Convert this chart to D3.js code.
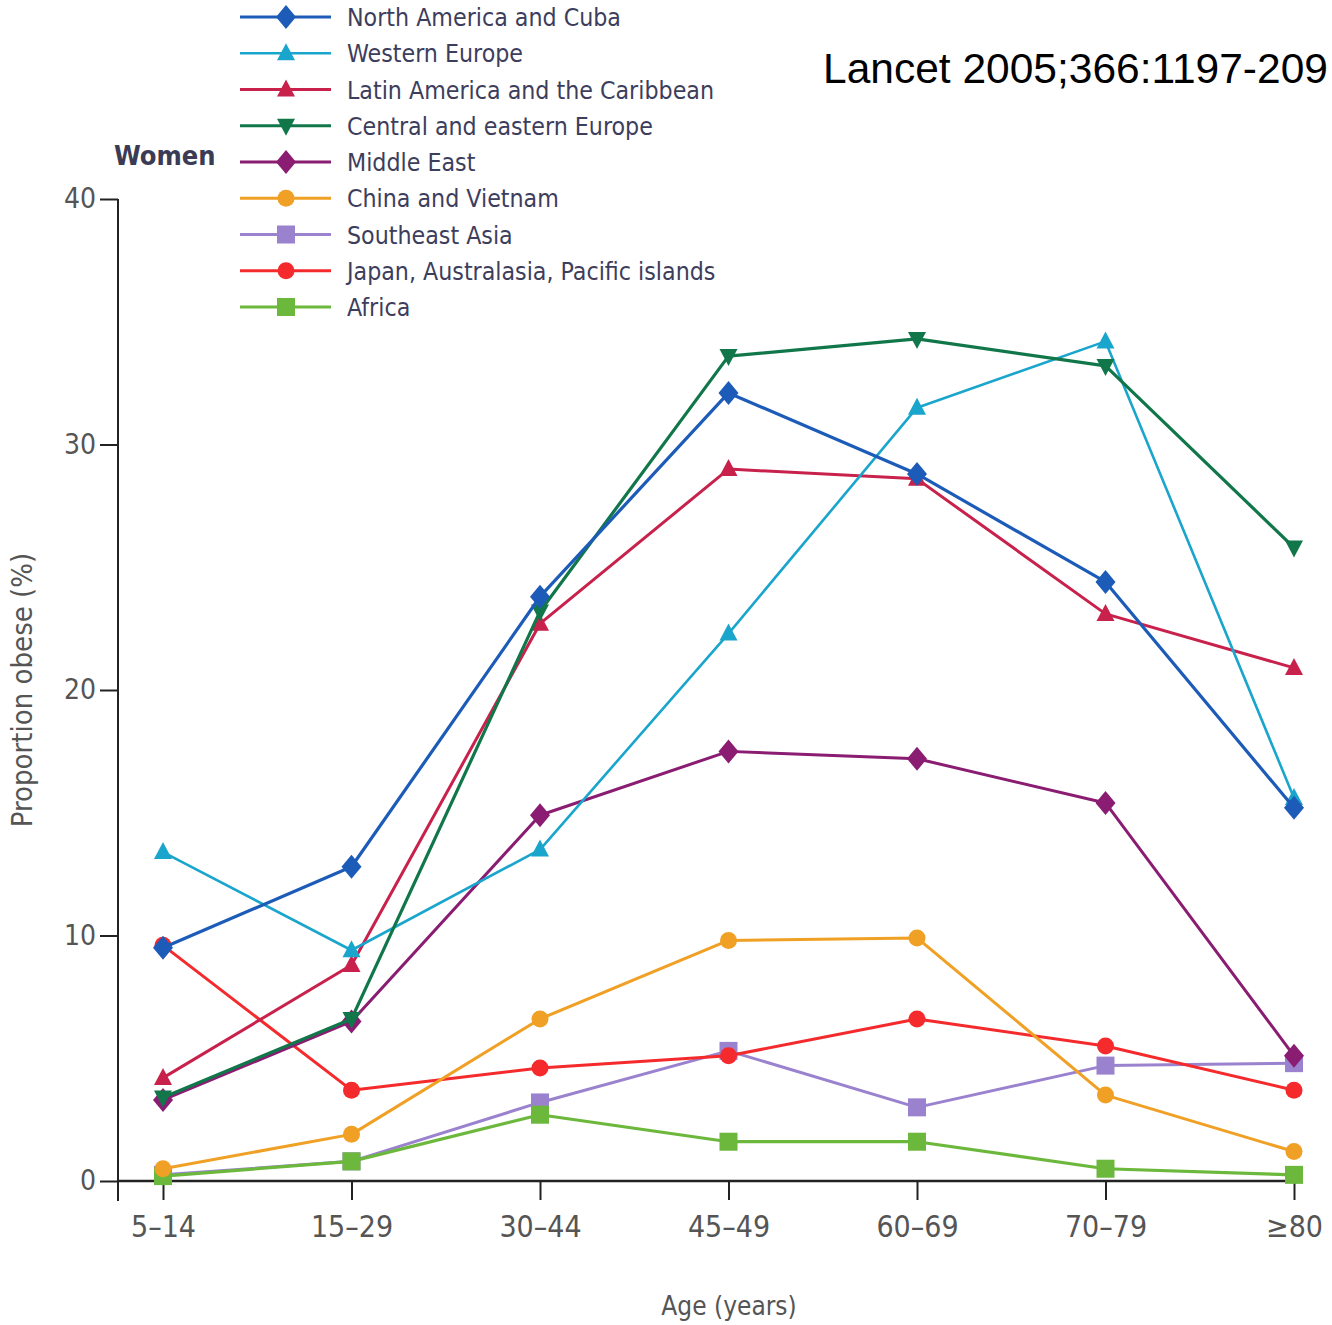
<!DOCTYPE html>
<html><head><meta charset="utf-8">
<script src="https://cdn.jsdelivr.net/npm/d3@7"></script>
<style>body{margin:0;background:#fff}svg{display:block}</style>
</head><body>
<svg id="c" width="1332" height="1325"></svg>
<script>
const categories = ["5–14","15–29","30–44","45–49","60–69","70–79","≥80"];
const yTicks = [0,10,20,30,40];
const northAmerica = [9.5,12.8,23.8,32.1,28.8,24.4,15.2];
const westernEurope = [13.4,9.4,13.5,22.3,31.5,34.2,15.6];
const latinAmerica = [4.2,8.8,22.7,29.0,28.6,23.1,20.9];
const centralEurope = [3.4,6.6,23.2,33.6,34.3,33.2,25.8];
const middleEast = [3.3,6.5,14.9,17.5,17.2,15.4,5.1];
const chinaVietnam = [0.5,1.9,6.6,9.8,9.9,3.5,1.2];
const southeastAsia = [0.25,0.8,3.2,5.3,3.0,4.7,4.8];
const japanAus = [9.6,3.7,4.6,5.1,6.6,5.5,3.7];
const africa = [0.2,0.8,2.7,1.6,1.6,0.5,0.25];

const series = [
  {name:"North America and Cuba", values:northAmerica, color:"#1c5cb8", shape:"diamond", w:3.2},
  {name:"Western Europe", values:westernEurope, color:"#1aa5cc", shape:"triangle", w:2.6},
  {name:"Latin America and the Caribbean", values:latinAmerica, color:"#c8214c", shape:"triangle", w:3},
  {name:"Central and eastern Europe", values:centralEurope, color:"#11774a", shape:"triangleDown", w:3.2},
  {name:"Middle East", values:middleEast, color:"#8a1c72", shape:"diamond", w:3},
  {name:"China and Vietnam", values:chinaVietnam, color:"#f0a024", shape:"circle", w:3},
  {name:"Southeast Asia", values:southeastAsia, color:"#9b82cf", shape:"square", w:3},
  {name:"Japan, Australasia, Pacific islands", values:japanAus, color:"#f42a2c", shape:"circle", w:3},
  {name:"Africa", values:africa, color:"#6cb83c", shape:"square", w:3.2}
];

const svg = d3.select("#c");
const x = d3.scalePoint().domain(categories).range([163,1294]);
const y = d3.scaleLinear().domain([0,40]).range([1181,199]);
const tickFont = "'DejaVu Sans Condensed','Liberation Sans Narrow',sans-serif";

// axes
const yAxis = svg.append("g").attr("transform","translate(118,0)")
  .call(d3.axisLeft(y).tickValues(yTicks).tickSize(18).tickPadding(4));
yAxis.select(".domain").remove();
yAxis.selectAll("line").attr("stroke","#222").attr("stroke-width",2);
yAxis.selectAll("text").attr("font-family",tickFont).attr("font-size",28).attr("fill","#555");
svg.append("line").attr("x1",118).attr("x2",118).attr("y1",y(40)).attr("y2",1201)
  .attr("stroke","#222").attr("stroke-width",2);

const xAxis = svg.append("g").attr("transform","translate(0,1181)")
  .call(d3.axisBottom(x).tickSize(19).tickPadding(16));
xAxis.select(".domain").remove();
xAxis.selectAll("line").attr("stroke","#222").attr("stroke-width",2);
xAxis.selectAll("text").attr("font-family",tickFont).attr("font-size",30).attr("fill","#555");
svg.append("line").attr("x1",118).attr("x2",1294).attr("y1",1181).attr("y2",1181)
  .attr("stroke","#222").attr("stroke-width",2.5);

// titles
svg.append("text").attr("x",729).attr("y",1315).attr("text-anchor","middle")
  .attr("font-family",tickFont).attr("font-size",26).attr("fill","#555").text("Age (years)");
svg.append("text").attr("transform","translate(32,690) rotate(-90)").attr("text-anchor","middle")
  .attr("font-family",tickFont).attr("font-size",29).attr("fill","#555").text("Proportion obese (%)");
svg.append("text").attr("x",114).attr("y",165).attr("font-family",tickFont)
  .attr("font-size",27).attr("font-weight","bold").attr("fill","#3b3b55").text("Women");
svg.append("text").attr("x",823).attr("y",83).attr("font-family","'Liberation Sans',Arial,sans-serif")
  .attr("font-size",42.5).attr("fill","#000").text("Lancet 2005;366:1197-209");

function marker(g, shape, cx, cy, color){
  let s;
  if(shape==="diamond") s = g.append("path").attr("d",`M${cx},${cy-12}L${cx+10},${cy}L${cx},${cy+12}L${cx-10},${cy}Z`);
  else if(shape==="triangle") s = g.append("path").attr("d",`M${cx},${cy-10}L${cx+9},${cy+7}L${cx-9},${cy+7}Z`);
  else if(shape==="triangleDown") s = g.append("path").attr("d",`M${cx},${cy+10}L${cx+9},${cy-7}L${cx-9},${cy-7}Z`);
  else if(shape==="square") s = g.append("rect").attr("x",cx-9).attr("y",cy-9).attr("width",18).attr("height",18);
  else s = g.append("circle").attr("cx",cx).attr("cy",cy).attr("r",8.5);
  s.attr("fill",color);
}

const line = d3.line().x((d,i)=>x(categories[i])).y(d=>y(d));
// drawing order (last on top)
const order = [6,8,7,5,4,2,1,3,0];
order.forEach(k=>{
  const s = series[k];
  const g = svg.append("g");
  g.append("path").datum(s.values).attr("d",line).attr("fill","none")
    .attr("stroke",s.color).attr("stroke-width",s.w).attr("stroke-linejoin","round");
  s.values.forEach((v,i)=>marker(g,s.shape,x(categories[i]),y(v),s.color));
});

// legend
const leg = d3.scaleLinear().domain([0,8]).range([17,307]);
series.forEach((s,i)=>{
  const ly = leg(i);
  const g = svg.append("g");
  g.append("line").attr("x1",240).attr("x2",331).attr("y1",ly).attr("y2",ly)
    .attr("stroke",s.color).attr("stroke-width",s.w);
  marker(g,s.shape,286,ly,s.color);
  g.append("text").attr("x",347).attr("y",ly+9).attr("font-family",tickFont)
    .attr("font-size",24.7).attr("fill","#3d3d5c").text(s.name);
});
</script>
</body></html>
